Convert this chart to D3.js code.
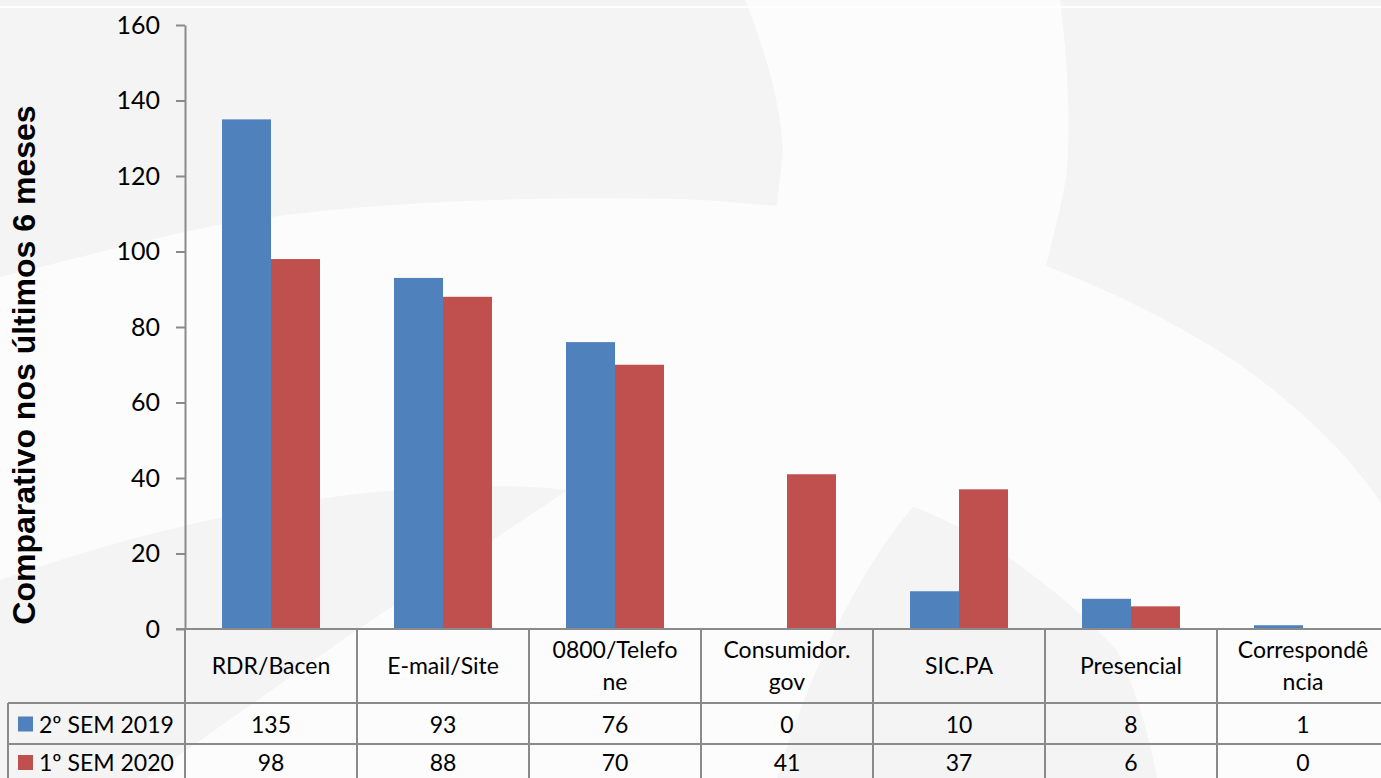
<!DOCTYPE html>
<html><head><meta charset="utf-8">
<script src="https://cdn.jsdelivr.net/npm/d3@7/dist/d3.min.js"></script>
<style>html,body{margin:0;padding:0;background:#f4f4f4;overflow:hidden}</style>
</head><body>
<svg id="chart" width="1381" height="778"></svg>
<script>
const categories = ["RDR/Bacen","E-mail/Site","0800/Telefone","Consumidor.gov","SIC.PA","Presencial","Correspondência"];
const categoryLines = [["RDR/Bacen"],["E-mail/Site"],["0800/Telefo","ne"],["Consumidor.","gov"],["SIC.PA"],["Presencial"],["Correspondê","ncia"]];
const seriesNames = ["2º SEM 2019","1º SEM 2020"];
const values2019 = [135,93,76,0,10,8,1];
const values2020 = [98,88,70,41,37,6,0];
const seriesColors = ["#4f81bd","#c0504d"];
const yTicks = [0,20,40,60,80,100,120,140,160];
const yTitle = "Comparativo nos últimos 6 meses";

(function(){
const svg = d3.select("#chart");
const W = 1381, H = 778;
const plotLeft = 185, plotTop = 25, base = 629, colW = 172;
const row1 = 703, row2 = 744;
const lineColor = "#8a8a8a";
const font = "Lato, 'Open Sans', sans-serif";

// background watermark
svg.append("rect").attr("width",W).attr("height",H).attr("fill","#f4f4f4");
svg.append("path").attr("fill","#fcfcfc").attr("d",
 "M745,0 C765,50 780,100 783,150 L777,206 C740,203 710,200 680,199 C500,195 300,205 180,233 C120,247 60,262 0,277 L0,580 C60,560 120,540 180,527 C270,505 340,494 400,490 C460,486 520,484 568,490 L357,630 L147,778 L777,778 C800,700 850,580 913,507 C980,530 1060,590 1117,650 C1140,700 1150,740 1157,778 L1381,778 L1381,503 C1340,440 1270,385 1233,360 C1180,325 1110,290 1046,266 C1060,210 1068,180 1068,150 C1070,100 1066,50 1060,0 Z");
svg.append("line").attr("x1",0).attr("x2",W).attr("y1",7).attr("y2",7).attr("stroke","#ffffff").attr("stroke-width",2);

// scales
const x = d3.scaleBand().domain(categories).range([plotLeft, plotLeft + colW*categories.length]).padding(0);
const barW = 49;
const outer = (colW/barW - 2)/2;
const xs = d3.scaleBand().domain(seriesNames).range([0, colW]).paddingInner(0).paddingOuter(outer);
const y = d3.scaleLinear().domain([0,160]).range([base, plotTop]);

const data = [values2019, values2020];

// bars
seriesNames.forEach((s, si) => {
  svg.append("g").selectAll("rect").data(categories).join("rect")
    .attr("x", c => x(c) + xs(s))
    .attr("y", (c,i) => y(data[si][i]))
    .attr("width", xs.bandwidth())
    .attr("height", (c,i) => base - y(data[si][i]))
    .attr("fill", seriesColors[si]);
});

// y axis
const ya = svg.append("g").attr("transform",`translate(${plotLeft},0)`)
  .call(d3.axisLeft(y).tickValues(yTicks).tickSize(9).tickSizeOuter(0).tickPadding(16));
ya.select(".domain").attr("stroke",lineColor).attr("stroke-width",2);
ya.selectAll(".tick line").attr("stroke",lineColor).attr("stroke-width",2);
ya.selectAll(".tick text").attr("font-family",font).attr("font-size",25).attr("fill","#000");

// y title
svg.append("text").attr("transform","translate(35,365) rotate(-90)")
  .attr("text-anchor","middle").attr("font-family","'Liberation Sans', Arial, sans-serif")
  .attr("font-weight","bold").attr("font-size",32).attr("fill","#000").text(yTitle);

// table grid
const g = svg.append("g").attr("stroke",lineColor).attr("stroke-width",2);
g.append("line").attr("x1",176).attr("x2",W).attr("y1",base).attr("y2",base);
g.append("line").attr("x1",8).attr("x2",W).attr("y1",row1).attr("y2",row1);
g.append("line").attr("x1",8).attr("x2",W).attr("y1",row2).attr("y2",row2);
g.append("line").attr("x1",8).attr("x2",8).attr("y1",row1).attr("y2",H);
categories.forEach(c => {
  g.append("line").attr("x1",x(c)).attr("x2",x(c)).attr("y1",base).attr("y2",H);
});
g.append("line").attr("x1",x(categories[6])+colW).attr("x2",x(categories[6])+colW).attr("y1",base).attr("y2",H);

// header labels
categories.forEach((c,i) => {
  const lines = categoryLines[i];
  const cx = x(c) + colW/2;
  const cy = (base + row1)/2;
  const lh = 32;
  lines.forEach((ln,j) => {
    svg.append("text").attr("x",cx).attr("y", cy + (j - (lines.length-1)/2)*lh)
      .attr("dy","0.35em").attr("text-anchor","middle")
      .attr("font-family",font).attr("font-size",23).attr("fill","#000").text(ln);
  });
});

// value rows
const rowCenters = [(row1+row2)/2 + 1, row2 + 19];
seriesNames.forEach((s,si) => {
  const cy = rowCenters[si];
  svg.append("rect").attr("x",18).attr("y",cy-8).attr("width",15).attr("height",15).attr("fill",seriesColors[si]);
  svg.append("text").attr("x",39).attr("y",cy).attr("dy","0.35em")
    .attr("font-family",font).attr("font-size",23).attr("fill","#000").text(s);
  categories.forEach((c,i) => {
    svg.append("text").attr("x",x(c)+colW/2).attr("y",cy).attr("dy","0.35em")
      .attr("text-anchor","middle").attr("font-family",font).attr("font-size",23)
      .attr("fill","#000").text(data[si][i]);
  });
});
})();
</script>
</body></html>
